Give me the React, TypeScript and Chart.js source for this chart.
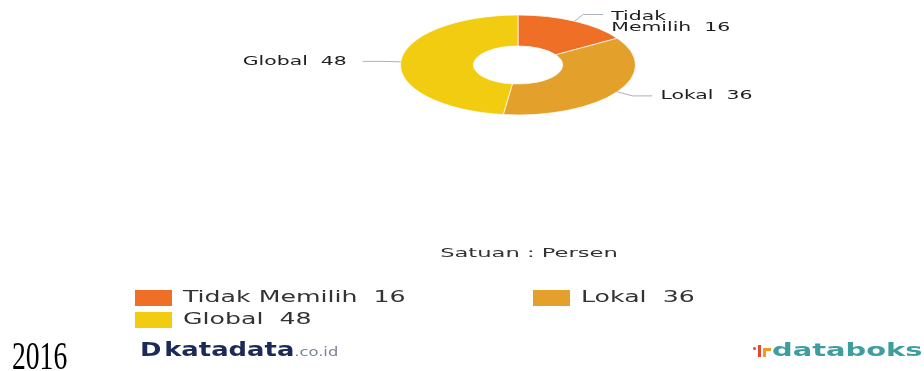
import React, { useEffect, useRef } from "react";
import { Chart, registerables } from "chart.js";

Chart.register(...registerables);

// ---- data ----
const categories = ["Tidak Memilih", "Lokal", "Global"];
const values = [16, 36, 48];
const sliceColors = ["#EF6F26", "#E3A02B", "#F2CC10"];
const unitText = "Satuan : Persen";
const yearText = "2016";

// ---- layout / style ----
const W = 924;
const H = 371;
const LABEL_STRETCH = 1.57;
const UNIT_STRETCH = 1.74;
const LEGEND_STRETCH = 1.68;
const PIE_CY = 65;
const PIE_RY = 50;
const LABEL_FONT = "13px 'DejaVu Sans'";
const LEGEND_FONT = "15px 'DejaVu Sans'";

const labelText = (i: number) => `${categories[i]}  ${values[i]}`;

function drawStretched(
  ctx: CanvasRenderingContext2D,
  text: string,
  x: number,
  y: number,
  align: CanvasTextAlign,
  sx: number
) {
  ctx.save();
  ctx.translate(x, y);
  ctx.scale(sx, 1);
  ctx.textAlign = align;
  ctx.textBaseline = "middle";
  ctx.fillText(text, 0, 0);
  ctx.restore();
}

function wrap(ctx: CanvasRenderingContext2D, text: string, maxW: number, sx: number): string[] {
  const words = text.split(" ");
  const lines: string[] = [];
  let cur = "";
  let started = false;
  for (const w of words) {
    const test = started ? cur + " " + w : w;
    if (started && w !== "" && ctx.measureText(test).width * sx > maxW) {
      lines.push(cur.trim());
      cur = w;
    } else cur = test;
    started = true;
  }
  if (cur) lines.push(cur);
  return lines;
}

const ellipsePlugin = {
  id: "ellipse",
  beforeDatasetsDraw(chart: any) {
    const arc: any = chart.getDatasetMeta(0).data[0];
    const k = PIE_RY / arc.outerRadius;
    const ctx = chart.ctx;
    ctx.save();
    ctx.translate(arc.x, PIE_CY);
    ctx.scale(1, k);
    ctx.translate(-arc.x, -arc.y);
  },
  afterDatasetsDraw(chart: any) {
    chart.ctx.restore();
  },
};

const outsideLabels = {
  id: "outsideLabels",
  afterDraw(chart: any) {
    const ctx: CanvasRenderingContext2D = chart.ctx;
    const meta = chart.getDatasetMeta(0);
    ctx.save();
    ctx.font = LABEL_FONT;
    meta.data.forEach((el: any, i: number) => {
      const a = (el.startAngle + el.endAngle) / 2;
      const R = el.outerRadius;
      const k = PIE_RY / R;
      const map = (r: number) => [el.x + r * Math.cos(a), PIE_CY + r * Math.sin(a) * k];
      const p0 = map(R);
      const p1 = map(R + 18);
      const side = Math.cos(a) >= 0 ? 1 : -1;
      const p2 = [p1[0] + side * 20, p1[1]];
      ctx.strokeStyle = "#A9B1BC";
      ctx.lineWidth = 1;
      ctx.beginPath();
      ctx.moveTo(p0[0], p0[1]);
      ctx.lineTo(p1[0], p1[1]);
      ctx.lineTo(p2[0], p2[1]);
      ctx.stroke();
      ctx.fillStyle = "#1E1E1E";
      const lines = wrap(ctx, labelText(i), 130, LABEL_STRETCH);
      const tx = p2[0] + side * (side > 0 ? 8 : 16);
      const startY = lines.length > 1 ? p2[1] + 2 : p2[1];
      lines.forEach((ln, j) =>
        drawStretched(ctx, ln, tx, startY + j * 11, side > 0 ? "left" : "right", LABEL_STRETCH)
      );
    });
    // unit text
    ctx.fillStyle = "#333";
    drawStretched(ctx, unitText, 529, 254, "center", UNIT_STRETCH);
    // legend
    const colX = [135, 533];
    const rowY = [298, 320];
    ctx.font = LEGEND_FONT;
    categories.forEach((c, i) => {
      const x = colX[i % 2];
      const y = rowY[Math.floor(i / 2)];
      ctx.fillStyle = sliceColors[i];
      ctx.fillRect(x, y - 8, 37, 16);
      ctx.fillStyle = "#333";
      drawStretched(ctx, `${c}  ${values[i]}`, x + 48, y, "left", LEGEND_STRETCH);
    });
    ctx.restore();
  },
};

export default function App() {
  const ref = useRef<HTMLCanvasElement | null>(null);
  useEffect(() => {
    if (!ref.current) return;
    const chart = new Chart(ref.current, {
      type: "doughnut",
      data: {
        labels: categories,
        datasets: [
          {
            data: values,
            backgroundColor: sliceColors,
            borderColor: "#ffffff",
            borderWidth: 1,
          },
        ],
      },
      options: {
        responsive: false,
        animation: false,
        cutout: "38%",
        layout: { padding: { left: 400, right: 288, top: 10, bottom: 125 } },
        plugins: { legend: { display: false }, tooltip: { enabled: false } },
      },
      plugins: [ellipsePlugin, outsideLabels],
    });
    return () => chart.destroy();
  }, []);

  return (
    <div style={{ position: "fixed", left: 0, top: 0, width: W, height: H, background: "#fff", overflow: "hidden" }}>
      <canvas ref={ref} width={W} height={H} style={{ position: "absolute", left: 0, top: 0 }} />
      <div
        style={{
          position: "absolute",
          left: 12,
          top: 336,
          fontFamily: "'Liberation Serif', serif",
          fontSize: 40,
          lineHeight: "40px",
          color: "#000",
          transform: "scaleX(0.69)",
          transformOrigin: "left top",
        }}
      >
        {yearText}
      </div>
      <div
        style={{
          position: "absolute",
          left: 140,
          top: 338,
          whiteSpace: "nowrap",
          color: "#1C2A58",
          fontFamily: "'DejaVu Sans', sans-serif",
          fontWeight: 700,
          fontSize: 19,
          lineHeight: "22px",
          transform: "scaleX(1.36)",
          transformOrigin: "left top",
        }}
      >
        <span style={{ fontWeight: 900, marginRight: 2 }}>D</span>
        <span>katadata</span>
        <span style={{ fontSize: 12, fontWeight: 400, color: "#7A8696" }}>.co.id</span>
      </div>
      <div style={{ position: "absolute", left: 752, top: 343, width: 20, height: 16 }}>
        <div style={{ position: "absolute", left: 1, top: 4, width: 3, height: 3, borderRadius: 2, background: "#E8472C" }} />
        <div style={{ position: "absolute", left: 6, top: 2, width: 3, height: 12, background: "#E8472C" }} />
        <div style={{ position: "absolute", left: 11, top: 5, width: 3, height: 9, background: "#F39A1E" }} />
        <div style={{ position: "absolute", left: 14, top: 5, width: 5, height: 3, background: "#F39A1E" }} />
      </div>
      <div
        style={{
          position: "absolute",
          left: 772,
          top: 339,
          whiteSpace: "nowrap",
          color: "#3E9D9E",
          fontFamily: "'DejaVu Sans', sans-serif",
          fontWeight: 700,
          fontSize: 17,
          lineHeight: "22px",
          transform: "scaleX(1.7)",
          transformOrigin: "left top",
        }}
      >
        databoks
      </div>
    </div>
  );
}
